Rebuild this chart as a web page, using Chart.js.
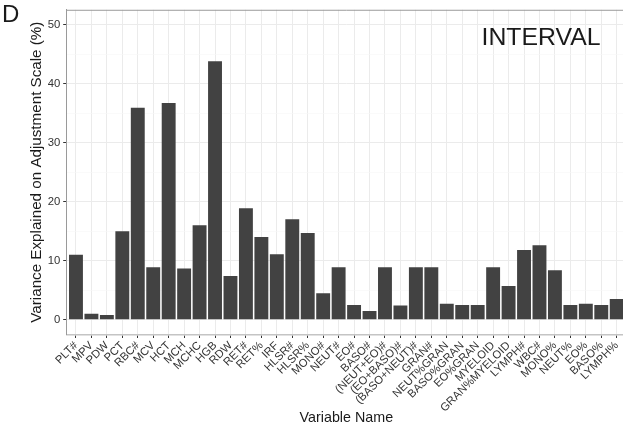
<!DOCTYPE html>
<html>
<head>
<meta charset="utf-8">
<script src="https://cdn.jsdelivr.net/npm/chart.js@4/dist/chart.umd.min.js"></script>
<style>
  html, body { margin: 0; padding: 0; background: #ffffff; overflow: hidden; }
  #wrap { position: relative; width: 640px; height: 439px; }
</style>
</head>
<body>
<div id="wrap"><canvas id="c" width="640" height="439"></canvas></div>
<script>
// Blood-count variables and the share of variance they explain on the adjustment scale
const variables = [
  'PLT#', 'MPV', 'PDW', 'PCT', 'RBC#', 'MCV', 'HCT', 'MCH', 'MCHC', 'HGB',
  'RDW', 'RET#', 'RET%', 'IRF', 'HLSR#', 'HLSR%', 'MONO#', 'NEUT#', 'EO#', 'BASO#',
  '(NEUT+EO)#', '(EO+BASO)#', '(BASO+NEUT)#', 'GRAN#', 'NEUT%GRAN', 'BASO%GRAN',
  'EO%GRAN', 'MYELOID', 'GRAN%MYELOID', 'LYMPH#', 'WBC#', 'MONO%', 'NEUT%', 'EO%',
  'BASO%', 'LYMPH%'
];
const varianceExplained = [
  11.0, 1.0, 0.8, 15.0, 35.9, 8.9, 36.7, 8.7, 16.0, 43.8,
  7.4, 18.9, 14.0, 11.1, 17.0, 14.7, 4.5, 8.9, 2.5, 1.5,
  8.9, 2.4, 8.9, 8.9, 2.7, 2.5,
  2.5, 8.9, 5.7, 11.8, 12.6, 8.4, 2.5, 2.7,
  2.5, 3.5
];
const yTicks = [0, 10, 20, 30, 40, 50];
const yMinorTicks = [5, 15, 25, 35, 45];

const cohortLabel = 'INTERVAL';
const panelTag = 'D';

const FONT = '"Liberation Sans", Arial, Helvetica, sans-serif';

// Panel frame, cohort label and panel tag
const decorations = {
  id: 'decorations',
  afterDraw(chart) {
    const { ctx, chartArea: a, scales } = chart;
    ctx.save();
    ctx.strokeStyle = '#9a9a9a';
    ctx.lineWidth = 1;
    ctx.beginPath();
    ctx.moveTo(a.left, a.top + 0.5);
    ctx.lineTo(a.right, a.top + 0.5);
    ctx.stroke();

    ctx.fillStyle = '#1a1a1a';
    ctx.font = '24.8px ' + FONT;
    ctx.textAlign = 'center';
    ctx.textBaseline = 'alphabetic';
    ctx.fillText(cohortLabel, scales.x.getPixelForValue(30.1), scales.y.getPixelForValue(46.6));

    ctx.font = '24px ' + FONT;
    ctx.textAlign = 'left';
    ctx.fillText(panelTag, 2, 22);
    ctx.restore();
  }
};

const allYTicks = yTicks.concat(yMinorTicks).sort((a, b) => a - b);

new Chart(document.getElementById('c'), {
  type: 'bar',
  data: {
    datasets: [{
      data: varianceExplained.map((v, i) => ({ x: i, y: v })),
      backgroundColor: '#424242',
      borderWidth: 0,
      barPercentage: 0.9,
      categoryPercentage: 1.0
    }]
  },
  options: {
    responsive: false,
    animation: false,
    layout: { padding: { top: 8.5, right: 14, left: 0, bottom: 0 } },
    plugins: {
      legend: { display: false },
      tooltip: { enabled: false }
    },
    scales: {
      x: {
        type: 'linear',
        min: -0.6,
        max: 35.6,
        offset: false,
        afterBuildTicks: (scale) => { scale.ticks = variables.map((_, i) => ({ value: i })); },
        afterFit: (scale) => { scale.height = 104.5; scale.paddingLeft = 0; scale.paddingRight = 0; },
        grid: {
          offset: false,
          color: '#ebebeb',
          lineWidth: 1,
          drawTicks: true,
          tickLength: 3.5,
          tickColor: '#333333'
        },
        border: { display: true, color: '#c4c4c4', width: 1.5 },
        ticks: {
          autoSkip: false,
          maxRotation: 45,
          minRotation: 45,
          padding: 1,
          color: '#333333',
          font: { family: FONT, size: 11.3 },
          callback: (v) => variables[v]
        },
        title: {
          display: true,
          text: 'Variable Name',
          color: '#1a1a1a',
          font: { family: FONT, size: 14.3 },
          padding: { top: 0, bottom: 12.4 }
        }
      },
      y: {
        min: -2.5,
        max: 52.5,
        afterBuildTicks: (scale) => { scale.ticks = allYTicks.map(v => ({ value: v })); },
        afterFit: (scale) => { scale.width = 66.7; },
        grid: {
          color: (ctx) => (ctx.tick && ctx.tick.value % 10 === 0) ? '#ebebeb' : '#f6f6f6',
          lineWidth: (ctx) => (ctx.tick && ctx.tick.value % 10 === 0) ? 1 : 0.6,
          drawTicks: true,
          tickLength: 3.5,
          tickColor: (ctx) => (ctx.tick && ctx.tick.value % 10 === 0) ? '#333333' : 'rgba(0,0,0,0)'
        },
        border: { display: true, color: '#9a9a9a', width: 1 },
        ticks: {
          padding: 3,
          color: '#333333',
          font: { family: FONT, size: 11.3 },
          callback: (v) => (v % 10 === 0 ? String(v) : '')
        },
        title: {
          display: true,
          text: 'Variance Explained on Adjustment Scale (%)',
          color: '#1a1a1a',
          font: { family: FONT, size: 15.2 },
          padding: { top: 28, bottom: 0 }
        }
      }
    }
  },
  plugins: [decorations]
});
</script>
</body>
</html>
